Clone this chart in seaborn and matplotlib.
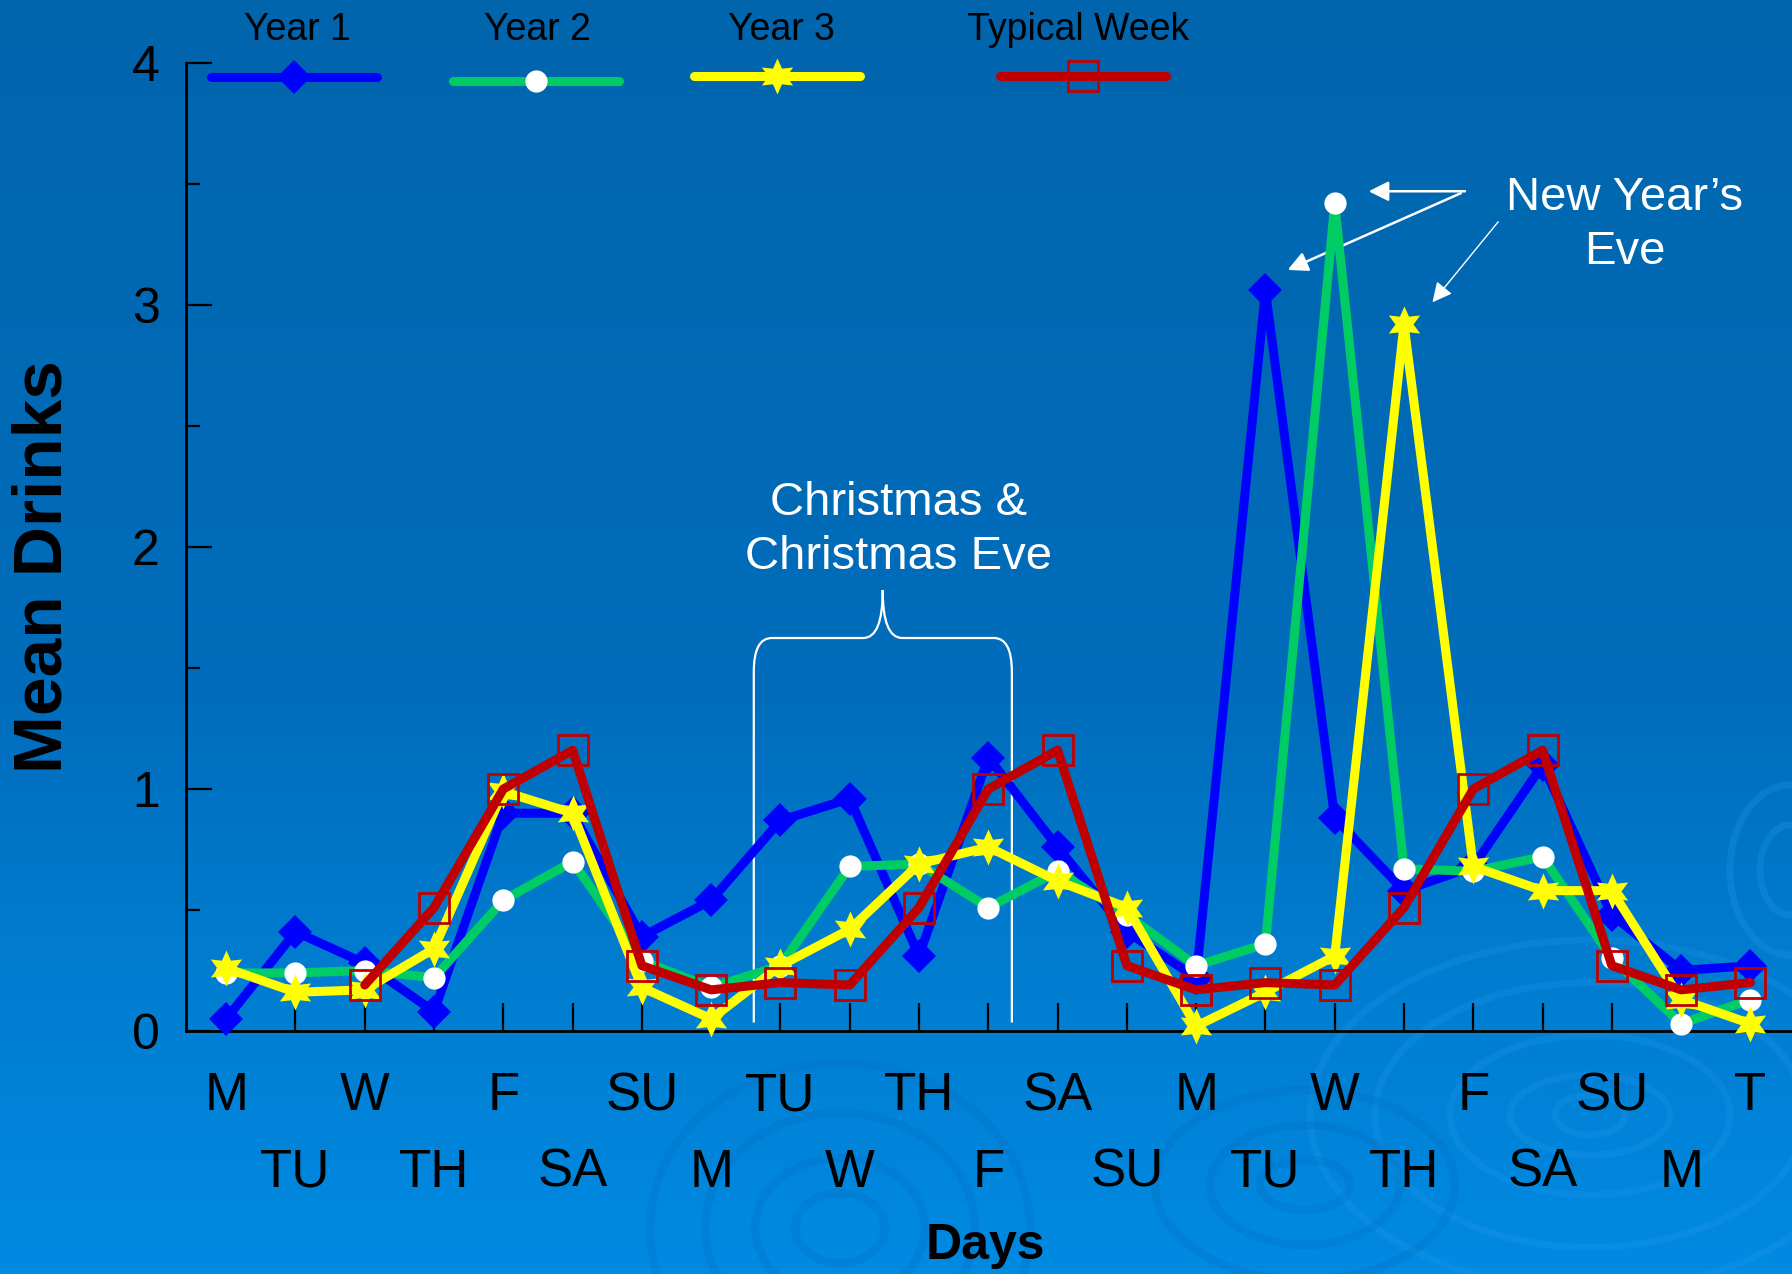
import numpy as np
import pandas as pd
import matplotlib
matplotlib.use("Agg")
import matplotlib.pyplot as plt
import seaborn as sns
from matplotlib.path import Path
from matplotlib.patches import PathPatch, Ellipse
from matplotlib.lines import Line2D
from matplotlib.colors import LinearSegmentedColormap

# ---- data -------------------------------------------------------------
days = ["M", "TU", "W", "TH", "F", "SA", "SU", "M", "TU", "W", "TH", "F",
        "SA", "SU", "M", "TU", "W", "TH", "F", "SA", "SU", "M", "T"]
year1 = [0.05, 0.41, 0.28, 0.08, 0.90, 0.90, 0.39, 0.54, 0.87, 0.96, 0.31, 1.13,
         0.76, 0.41, 0.22, 3.06, 0.88, 0.58, 0.68, 1.10, 0.48, 0.25, 0.27]
year2 = [0.24, 0.24, 0.25, 0.22, 0.54, 0.70, 0.29, 0.18, 0.27, 0.68, 0.69, 0.51,
         0.66, 0.48, 0.27, 0.36, 3.42, 0.67, 0.66, 0.72, 0.30, 0.03, 0.13]
year3 = [0.26, 0.16, 0.17, 0.34, 0.99, 0.90, 0.18, 0.05, 0.27, 0.42, 0.69, 0.76,
         0.62, 0.51, 0.02, 0.16, 0.31, 2.92, 0.68, 0.58, 0.58, 0.13, 0.03]
typical_week = [np.nan, np.nan, 0.19, 0.51, 1.00, 1.16, 0.27, 0.17, 0.20, 0.19, 0.51, 1.00,
                1.16, 0.27, 0.17, 0.20, 0.19, 0.51, 1.00, 1.16, 0.27, 0.17, 0.20]
series_names = ["Year 1", "Year 2", "Year 3", "Typical Week"]

records = []
for name, vals in zip(series_names, [year1, year2, year3, typical_week]):
    for i, v in enumerate(vals):
        records.append({"day": i, "series": name, "value": v})
df = pd.DataFrame(records)

# ---- styling ----------------------------------------------------------
sns.set_theme(style="ticks")
plt.rcParams["font.family"] = ["Liberation Sans", "DejaVu Sans"]

W, H = 1792, 1274
fig = plt.figure(figsize=(W / 100, H / 100), dpi=100)

# gradient backdrop with faint ripples
bg = fig.add_axes([0, 0, 1, 1], zorder=-10)
grad_cmap = LinearSegmentedColormap.from_list(
    "ocean", [(0.0, "#0065ad"), (0.55, "#006dbc"), (0.75, "#007ccf"), (1.0, "#008ae2")])
bg.imshow(np.linspace(0, 1, 400).reshape(-1, 1), aspect="auto", cmap=grad_cmap,
          extent=[0, W, H, 0])
bg.set_xlim(0, W)
bg.set_ylim(H, 0)
bg.axis("off")
for w, h in [(70, 40), (160, 80), (280, 160), (430, 265), (560, 350)]:
    bg.add_patch(Ellipse((1590, 1115), w, h, fill=False, ec="#2a9cf0", lw=5, alpha=0.22))
for w, h in [(90, 70), (170, 140), (270, 230), (380, 330)]:
    bg.add_patch(Ellipse((840, 1228), w, h, fill=False, ec="#0070c4", lw=6, alpha=0.3))
for w, h in [(90, 50), (190, 120), (300, 190)]:
    bg.add_patch(Ellipse((1305, 1185), w, h, fill=False, ec="#0070c4", lw=6, alpha=0.3))
for w, h in [(60, 90), (120, 170)]:
    bg.add_patch(Ellipse((1790, 870), w, h, fill=False, ec="#2a9cf0", lw=5, alpha=0.25))

ax = fig.add_axes([186 / W, 1 - 1031 / H, 1 - 186 / W, (1031 - 63) / H])
ax.set_facecolor("none")

LW = 6.5
styles = {
    "Year 1": dict(color="#0000ff", marker="D", markersize=17, markerfacecolor="#0000ff",
                   markeredgecolor="#0000ff", markeredgewidth=0, zorder=3),
    "Year 2": dict(color="#00cc66", marker="o", markersize=16, markerfacecolor="white",
                   markeredgecolor="white", markeredgewidth=0, zorder=4),
    "Year 3": dict(color="#ffff00", marker=(6, 1, 0), markersize=26, markerfacecolor="#ffff00",
                   markeredgecolor="#ffff00", markeredgewidth=0, zorder=5),
    "Typical Week": dict(color="#c00000", marker="s", markersize=21, markerfacecolor="none",
                         markeredgecolor="#c00000", markeredgewidth=2.0, zorder=6),
}

for name in series_names:
    sub = df[df["series"] == name].dropna()
    sns.lineplot(data=sub, x="day", y="value", ax=ax, errorbar=None, legend=False,
                 linewidth=LW, clip_on=False, **styles[name])

ax.set_xlim(-0.58, 22.6)
ax.set_ylim(0, 4)

# axes, ticks, labels
for s in ["top", "right"]:
    ax.spines[s].set_visible(False)
for s in ["left", "bottom"]:
    ax.spines[s].set_color("black")
    ax.spines[s].set_linewidth(2)
ax.spines["left"].set_bounds(0, 4)

ax.set_xticks(range(0, len(days), 2))
ax.set_xticklabels(days[0::2])
ax.set_xticks(range(1, len(days), 2), minor=True)
ax.set_xticklabels(days[1::2], minor=True)
ax.tick_params(axis="x", which="major", direction="in", length=20, width=1.6,
               color="black", pad=29, labelsize=38, labelcolor="black")
ax.tick_params(axis="x", which="minor", direction="in", length=20, width=1.6,
               color="black", pad=84, labelsize=38, labelcolor="black")

ax.set_yticks([0, 1, 2, 3, 4])
ax.set_yticklabels(["0", "1", "2", "3", "4"])
ax.set_yticks([0.5, 1.5, 2.5, 3.5], minor=True)
ax.tick_params(axis="y", which="major", direction="in", length=19, width=1.6,
               color="black", pad=19, labelsize=36, labelcolor="black")
ax.tick_params(axis="y", which="minor", direction="in", length=10, width=1.6, color="black")

ax.set_ylabel("Mean Drinks", fontsize=50, fontweight="bold", color="black", va="center")
ax.yaxis.set_label_coords(-0.089, 0.48)
ax.set_xlabel("Days", fontsize=36, fontweight="bold", color="black", va="center")
ax.xaxis.set_label_coords(0.4975, -0.222)

# brace over the Christmas days
L, R, C = 7.615, 11.34, 9.476
y_bot, y_top, y_peak = 0.035, 1.624, 1.822
verts = [(L, y_bot), (L, y_top - 0.14), (L, y_top), (L + 0.26, y_top),
         (C - 0.28, y_top), (C, y_top), (C, y_peak),
         (C, y_top), (C + 0.28, y_top),
         (R - 0.26, y_top), (R, y_top), (R, y_top - 0.14), (R, y_bot)]
codes = [Path.MOVETO, Path.LINETO, Path.CURVE3, Path.CURVE3,
         Path.LINETO, Path.CURVE3, Path.CURVE3,
         Path.CURVE3, Path.CURVE3,
         Path.LINETO, Path.CURVE3, Path.CURVE3, Path.LINETO]
ax.add_patch(PathPatch(Path(verts, codes), fill=False, ec="white", lw=1.6,
                       zorder=1.5, clip_on=False))

ax.text(9.71, 2.07, "Christmas &\nChristmas Eve", ha="center", va="center",
        fontsize=34, color="white", linespacing=1.3, clip_on=False)
ax.text(20.18, 3.33, "New Year\u2019s\nEve", ha="center", va="center",
        fontsize=34, color="white", linespacing=1.3, clip_on=False)

arrow_kw = dict(arrowstyle="-|>", color="white", shrinkA=0, shrinkB=0, mutation_scale=30)
ax.annotate("", xy=(16.49, 3.47), xytext=(17.88, 3.47),
            arrowprops=dict(lw=1.8, **arrow_kw), annotation_clip=False)
ax.annotate("", xy=(15.32, 3.145), xytext=(17.82, 3.462),
            arrowprops=dict(lw=1.8, **arrow_kw), annotation_clip=False)
ax.annotate("", xy=(17.41, 3.011), xytext=(18.36, 3.344),
            arrowprops=dict(lw=1.0, **arrow_kw), annotation_clip=False)

# legend: one sample per series, name set above it
legend_handle_pos = [294, 536, 777, 1083]
legend_handle_y = [77, 81, 76, 76]
legend_label_pos = [297, 537, 781, 1078]
for name, hx, hy, lx in zip(series_names, legend_handle_pos, legend_handle_y, legend_label_pos):
    st = styles[name]
    h = Line2D([], [], color=st["color"], lw=LW, marker=st["marker"], markersize=st["markersize"],
               markerfacecolor=st["markerfacecolor"], markeredgecolor=st["markeredgecolor"],
               markeredgewidth=st["markeredgewidth"])
    fig.legend(handles=[h], labels=[""], loc="center", bbox_to_anchor=(hx / W, 1 - (hy + 3) / H),
               frameon=False, fontsize=20, handlelength=6.0, handletextpad=0,
               borderpad=0, borderaxespad=0, numpoints=1)
    fig.text(lx / W, 1 - 30 / H, name, ha="center", va="center", fontsize=27, color="black")

fig.savefig("out.png", dpi=100)
